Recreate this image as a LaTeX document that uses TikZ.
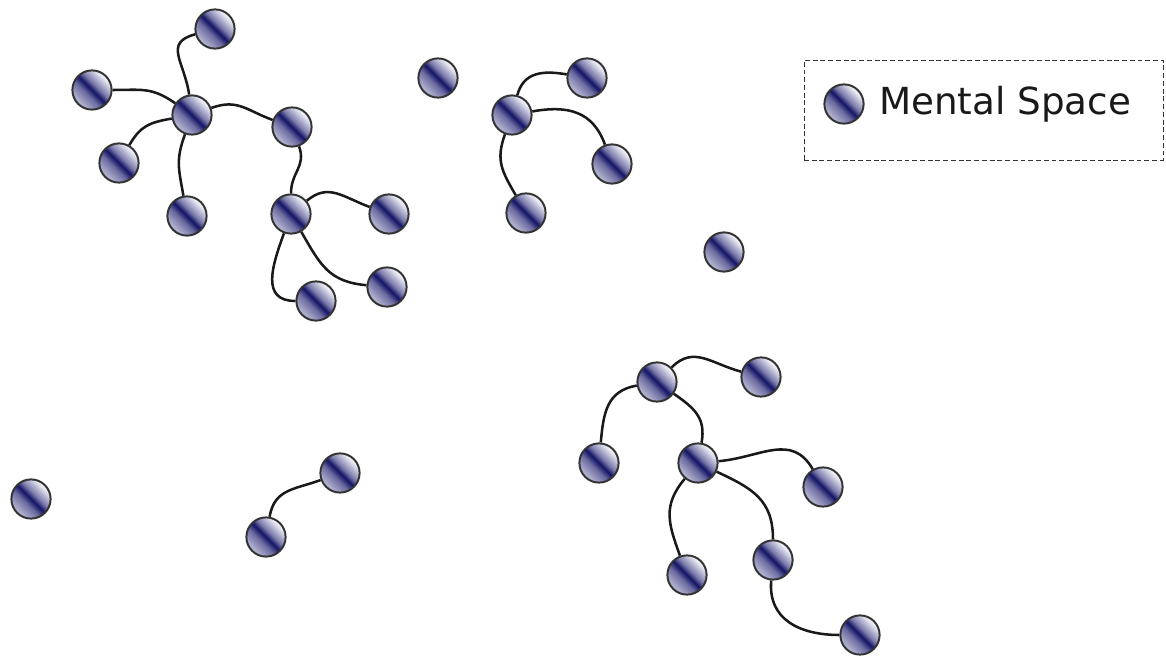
\documentclass[tikz,border=0pt]{standalone}
\usepackage{fontspec}
\setmainfont{DejaVu Sans}
\definecolor{msa}{RGB}{175,175,205}
\definecolor{msb}{RGB}{105,105,160}
\definecolor{msd}{RGB}{18,18,100}
\definecolor{msc}{RGB}{120,120,170}
\definecolor{mse}{RGB}{238,238,246}
\pgfdeclarehorizontalshading{mentalshade}{100bp}{color(0bp)=(msa); color(28bp)=(msa); color(42bp)=(msb); color(50bp)=(msd); color(57bp)=(msc); color(72bp)=(mse); color(100bp)=(mse)}
\tikzset{
  ms/.style={circle, draw=black!80, line width=1.4pt, minimum size=0.98cm, inner sep=0pt, shading=mentalshade, shading angle=45},
  link/.style={line width=1.8pt, black!90, looseness=1.15},
}
\begin{document}
\begin{tikzpicture}[x=0.025cm, y=-0.025cm]
\useasboundingbox (0,0) rectangle (1166,656);
% cluster 1
\node[ms] (A) at (215,29) {};
\node[ms] (B) at (92,90) {};
\node[ms] (C) at (192,115) {};
\node[ms] (D) at (119,163) {};
\node[ms] (E) at (187,216) {};
\node[ms] (F) at (292,127) {};
\node[ms] (G) at (291,214) {};
\node[ms] (H) at (389,214) {};
\node[ms] (I) at (387,287) {};
\node[ms] (J) at (316,301) {};
% cluster 2
\node[ms] (K) at (438,78) {};
\node[ms] (L) at (512,115) {};
\node[ms] (M) at (587,78) {};
\node[ms] (N) at (612,164) {};
\node[ms] (O) at (526,213) {};
\node[ms] (P) at (724,252) {};
% cluster 3
\node[ms] (Q) at (657,382) {};
\node[ms] (R) at (761,377) {};
\node[ms] (S) at (599,463) {};
\node[ms] (T) at (698,463) {};
\node[ms] (U) at (823,487) {};
\node[ms] (V) at (687,575) {};
\node[ms] (W) at (773,560) {};
\node[ms] (X) at (860,635) {};
% bottom left
\node[ms] (Y) at (31,499) {};
\node[ms] (Z1) at (340,473) {};
\node[ms] (Z2) at (266,537) {};
% links
\draw[link] (C) to[out=98,in=195,looseness=1.4] (A);
\draw[link] (C) to[out=145,in=0] (B);
\draw[link] (C) to[out=190,in=60] (D);
\draw[link] (C) to[out=250,in=100] (E);
\draw[link] (C) to[out=20,in=160] (F);
\draw[link] (F) to[out=-70,in=90] (G);
\draw[link] (G) to[out=40,in=160] (H);
\draw[link] (G) to[out=-60,in=175] (I);
\draw[link] (G) to[out=250,in=180,looseness=1.3] (J);
\draw[link] (L) to[out=75,in=170] (M);
\draw[link] (L) to[out=10,in=110] (N);
\draw[link] (L) to[out=250,in=120] (O);
\draw[link] (Q) to[out=45,in=165] (R);
\draw[link] (Q) to[out=190,in=85] (S);
\draw[link] (Q) to[out=-35,in=80] (T);
\draw[link] (T) to[out=5,in=120] (U);
\draw[link] (T) to[out=230,in=110] (V);
\draw[link] (T) to[out=-25,in=90] (W);
\draw[link] (W) to[out=-95,in=180] (X);
\draw[link] (Z1) to[out=200,in=80] (Z2);
% legend
\node[draw=black!80, line width=0.7pt, dash pattern=on 3.5pt off 2pt, minimum width=359*0.025cm, minimum height=100*0.025cm, inner sep=0pt] (legend) at (983.5,110) {};
\node[ms] (LS) at (844,104) {};
\node[anchor=west, font=\fontsize{26.5}{30}\selectfont, text=black!90, inner sep=0pt] (LT) at (879,104) {Mental Space};
\end{tikzpicture}
\end{document}
